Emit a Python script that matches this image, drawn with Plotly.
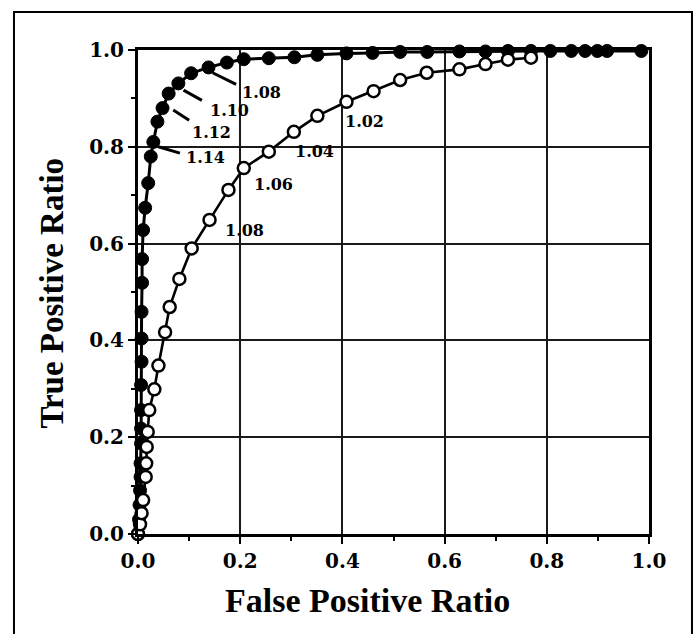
import plotly.graph_objects as go

# ---------------- data ----------------
filled_fpr = [0.000, 0.002, 0.003, 0.004, 0.005, 0.005, 0.006, 0.006, 0.006, 0.006,
              0.007, 0.007, 0.007, 0.008, 0.008, 0.010, 0.014, 0.020, 0.025, 0.030,
              0.038, 0.048, 0.060, 0.079, 0.104, 0.138, 0.174, 0.207, 0.256, 0.306,
              0.351, 0.408, 0.459, 0.513, 0.566, 0.629, 0.680, 0.724, 0.769, 0.807,
              0.848, 0.875, 0.899, 0.918, 0.985]
filled_tpr = [0.000, 0.030, 0.060, 0.090, 0.118, 0.146, 0.187, 0.218, 0.256, 0.308,
              0.356, 0.404, 0.459, 0.519, 0.568, 0.628, 0.674, 0.725, 0.780, 0.810,
              0.852, 0.880, 0.910, 0.931, 0.952, 0.964, 0.974, 0.981, 0.983, 0.985,
              0.990, 0.993, 0.994, 0.996, 0.996, 0.997, 0.997, 0.998, 0.998, 0.998,
              0.998, 0.998, 0.998, 0.998, 0.998]

open_fpr = [0.000, 0.004, 0.007, 0.010, 0.015, 0.016, 0.017, 0.019, 0.022, 0.032,
            0.040, 0.053, 0.062, 0.081, 0.105, 0.140, 0.177, 0.207, 0.256, 0.305,
            0.351, 0.408, 0.461, 0.513, 0.565, 0.629, 0.680, 0.724, 0.769]
open_tpr = [0.000, 0.020, 0.043, 0.070, 0.118, 0.146, 0.180, 0.211, 0.256, 0.299,
            0.348, 0.417, 0.469, 0.527, 0.590, 0.649, 0.711, 0.756, 0.790, 0.831,
            0.864, 0.893, 0.915, 0.938, 0.953, 0.960, 0.971, 0.980, 0.984]

tick_vals = [0.0, 0.2, 0.4, 0.6, 0.8, 1.0]
tick_text = ["0.0", "0.2", "0.4", "0.6", "0.8", "1.0"]

filled_labels = ["1.08", "1.10", "1.12", "1.14"]
open_labels = ["1.02", "1.04", "1.06", "1.08"]

x_title = "False Positive Ratio"
y_title = "True Positive Ratio"

# ---------------- label placement ----------------
filled_label_pos = [(0.200, 0.912), (0.137, 0.876), (0.102, 0.829), (0.090, 0.777)]
filled_leaders = [((0.146, 0.953), (0.192, 0.929)),
                  ((0.089, 0.917), (0.125, 0.896)),
                  ((0.069, 0.876), (0.100, 0.855)),
                  ((0.040, 0.800), (0.082, 0.787))]
open_label_pos = [(0.401, 0.852), (0.303, 0.790), (0.224, 0.723), (0.166, 0.628)]

num_font = dict(family="DejaVu Serif", size=20, color="black", weight="bold")
lab_font = dict(family="DejaVu Serif", size=16, color="black", weight="bold")
title_font = dict(family="Liberation Serif", size=34, color="black", weight="bold")

fig = go.Figure()

fig.add_trace(go.Scatter(
    x=filled_fpr, y=filled_tpr, mode="lines+markers",
    line=dict(color="black", width=3),
    marker=dict(size=13, color="black", line=dict(color="black", width=1)),
    cliponaxis=False, showlegend=False, hoverinfo="skip"))

fig.add_trace(go.Scatter(
    x=open_fpr, y=open_tpr, mode="lines+markers",
    line=dict(color="black", width=2.6),
    marker=dict(size=12, color="white", line=dict(color="black", width=2.5)),
    cliponaxis=False, showlegend=False, hoverinfo="skip"))

annotations = []
for txt, (ax_, ay_) in zip(filled_labels, filled_label_pos):
    annotations.append(dict(x=ax_, y=ay_, xref="x", yref="y", text=txt,
                            showarrow=False, xanchor="left", yanchor="middle",
                            font=lab_font))
for txt, (ax_, ay_) in zip(open_labels, open_label_pos):
    annotations.append(dict(x=ax_, y=ay_, xref="x", yref="y", text=txt,
                            showarrow=False, xanchor="left", yanchor="middle",
                            font=lab_font))

annotations.append(dict(x=0.45, y=-0.137, xref="paper", yref="paper", text=x_title,
                        showarrow=False, xanchor="center", yanchor="middle",
                        font=title_font))
annotations.append(dict(x=-0.168, y=0.497, xref="paper", yref="paper", text=y_title,
                        showarrow=False, xanchor="center", yanchor="middle",
                        textangle=-90, font=dict(title_font, size=33)))

shapes = []
for (p0, p1) in filled_leaders:
    shapes.append(dict(type="line", xref="x", yref="y", x0=p0[0], y0=p0[1],
                       x1=p1[0], y1=p1[1], line=dict(color="black", width=3)))
# outer frame
shapes.append(dict(type="rect", xref="paper", yref="paper",
                   x0=-0.2427, x1=1.0841, y0=-0.25, y1=1.0785,
                   line=dict(color="black", width=2), layer="below"))

axis_common = dict(
    range=[0, 1], tickmode="array", tickvals=tick_vals, ticktext=tick_text,
    tickfont=num_font, showgrid=True, gridcolor="#1a1a1a", gridwidth=1.6,
    showline=True, linecolor="black", linewidth=3, mirror=True,
    ticks="outside", ticklen=7, tickwidth=2, tickcolor="black",
    zeroline=False, fixedrange=True,
    minor=dict(tickvals=[0.1, 0.3, 0.5, 0.7, 0.9], ticks="outside", ticklen=4,
               tickwidth=2, tickcolor="black", showgrid=False),
)

fig.update_layout(
    width=696, height=634,
    margin=dict(l=138, r=47, t=50, b=100),
    paper_bgcolor="white", plot_bgcolor="white",
    xaxis=dict(axis_common),
    yaxis=dict(axis_common),
    annotations=annotations, shapes=shapes,
    showlegend=False,
)

fig.write_html("out.html")
